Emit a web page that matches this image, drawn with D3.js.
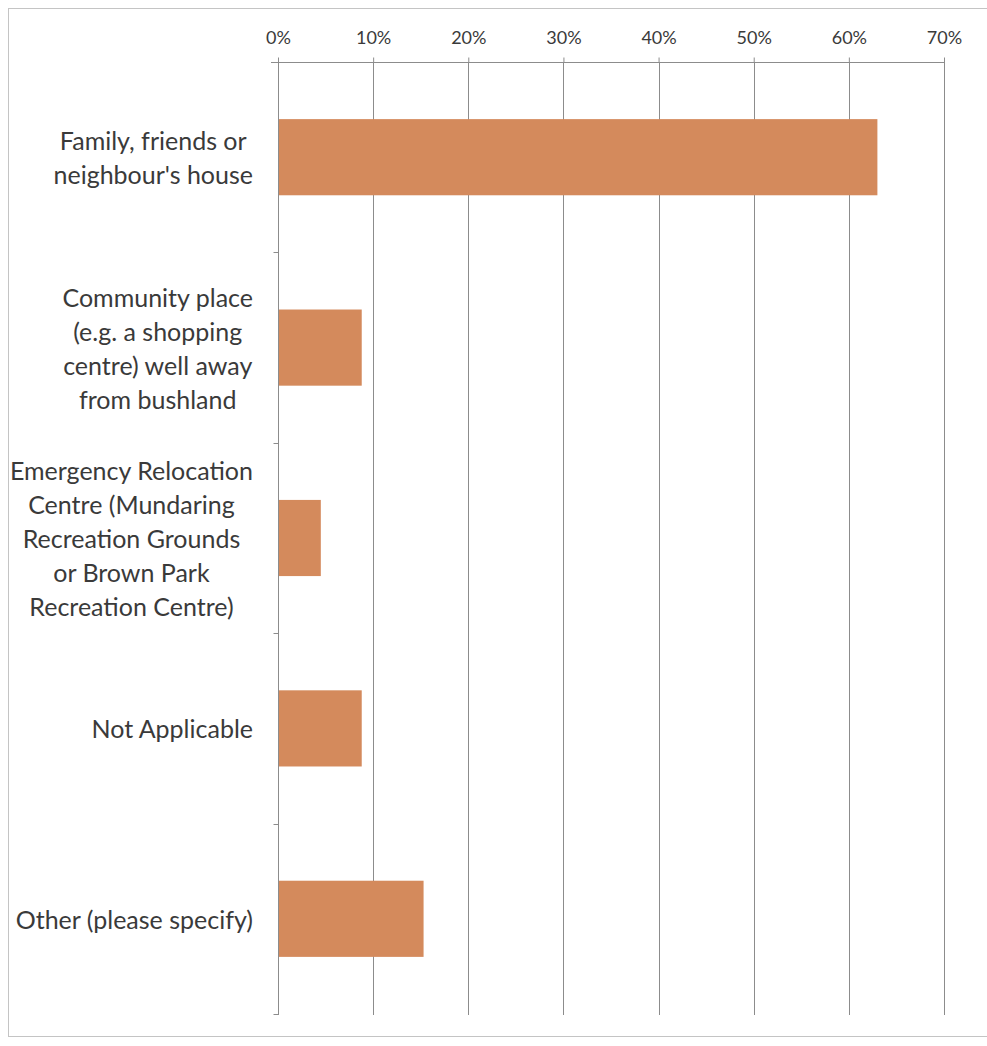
<!DOCTYPE html>
<html><head><meta charset="utf-8">
<script src="https://cdn.jsdelivr.net/npm/d3@7"></script>
<style>html,body{margin:0;padding:0;background:#fff;}</style>
</head><body>
<svg id="chart" width="987" height="1046"></svg>
<script>
const categories = [
  ["Family, friends or", "neighbour's house"],
  ["Community place", "(e.g. a shopping", "centre) well away", "from bushland"],
  ["Emergency Relocation", "Centre (Mundaring", "Recreation Grounds", "or Brown Park", "Recreation Centre)"],
  ["Not Applicable"],
  ["Other (please specify)"]
];
const categoryKeys = ["family", "community", "erc", "na", "other"];
const values = [0.63, 0.088, 0.045, 0.088, 0.153];
const tickValues = [0, 0.1, 0.2, 0.3, 0.4, 0.5, 0.6, 0.7];
const tickLabels = ["0%", "10%", "20%", "30%", "40%", "50%", "60%", "70%"];

const svg = d3.select("#chart");
const font = "Lato, 'Open Sans', sans-serif";
const textColor = "#3a3a3a";
const gridColor = "#8c8c8c";

svg.append("rect").attr("x", 8.5).attr("y", 8.5).attr("width", 990).attr("height", 1028)
  .attr("fill", "none").attr("stroke", "#c4c4c4").attr("stroke-width", 1);

const x = d3.scaleLinear().domain([0, 0.7]).range([278, 944]);
const y = d3.scaleBand().domain(categoryKeys).range([62, 1014]).paddingInner(0.6).paddingOuter(0.3);
const step = y.step();

// gridlines
svg.append("g").selectAll("line").data(tickValues.slice(1)).join("line")
  .attr("x1", d => Math.round(x(d)) + 0.5).attr("x2", d => Math.round(x(d)) + 0.5)
  .attr("y1", 62).attr("y2", 1015)
  .attr("stroke", gridColor).attr("stroke-width", 1);

// bars
svg.append("g").selectAll("rect").data(values).join("rect")
  .attr("x", x(0)).attr("y", (d, i) => y(categoryKeys[i]))
  .attr("width", d => x(d) - x(0)).attr("height", y.bandwidth())
  .attr("fill", "#D48A5C");

// top axis
const topAxis = d3.axisTop(x).tickValues(tickValues).tickFormat((d, i) => tickLabels[i]).tickSizeInner(5).tickSizeOuter(0).tickPadding(14);
const gTop = svg.append("g").attr("transform", "translate(0,62.5)").call(topAxis);
gTop.select(".domain").attr("stroke", gridColor).attr("d", "M271,0H944");
gTop.selectAll(".tick line").attr("stroke", gridColor);
gTop.selectAll(".tick text").attr("font-family", font).attr("font-size", 18).attr("fill", textColor).attr("dy", "0");

// left axis
const gLeft = svg.append("g").attr("transform", "translate(278.5,0)");
gLeft.append("line").attr("x1", 0).attr("x2", 0).attr("y1", 62).attr("y2", 1015).attr("stroke", gridColor);
gLeft.selectAll("line.tk").data(d3.range(1, categoryKeys.length + 1)).join("line").attr("class", "tk")
  .attr("x1", -5).attr("x2", 0)
  .attr("y1", k => Math.round(62 + k * step) + 0.5).attr("y2", k => Math.round(62 + k * step) + 0.5)
  .attr("stroke", gridColor);

// category labels: block right-aligned to axis, lines centered within block
const lineH = 34;
const labels = svg.append("g");
categories.forEach((lines, i) => {
  const g = labels.append("g");
  const cy = y(categoryKeys[i]) + y.bandwidth() / 2;
  const texts = g.selectAll("text").data(lines).join("text")
    .attr("font-family", font).attr("font-size", 25).attr("fill", textColor)
    .attr("text-anchor", "middle").attr("dominant-baseline", "central")
    .attr("y", (d, j) => cy + (j - (lines.length - 1) / 2) * lineH)
    .text(d => d);
  let maxW = 0;
  texts.each(function () { maxW = Math.max(maxW, this.getComputedTextLength()); });
  texts.attr("x", 253 - maxW / 2);
});
</script>
</body></html>
